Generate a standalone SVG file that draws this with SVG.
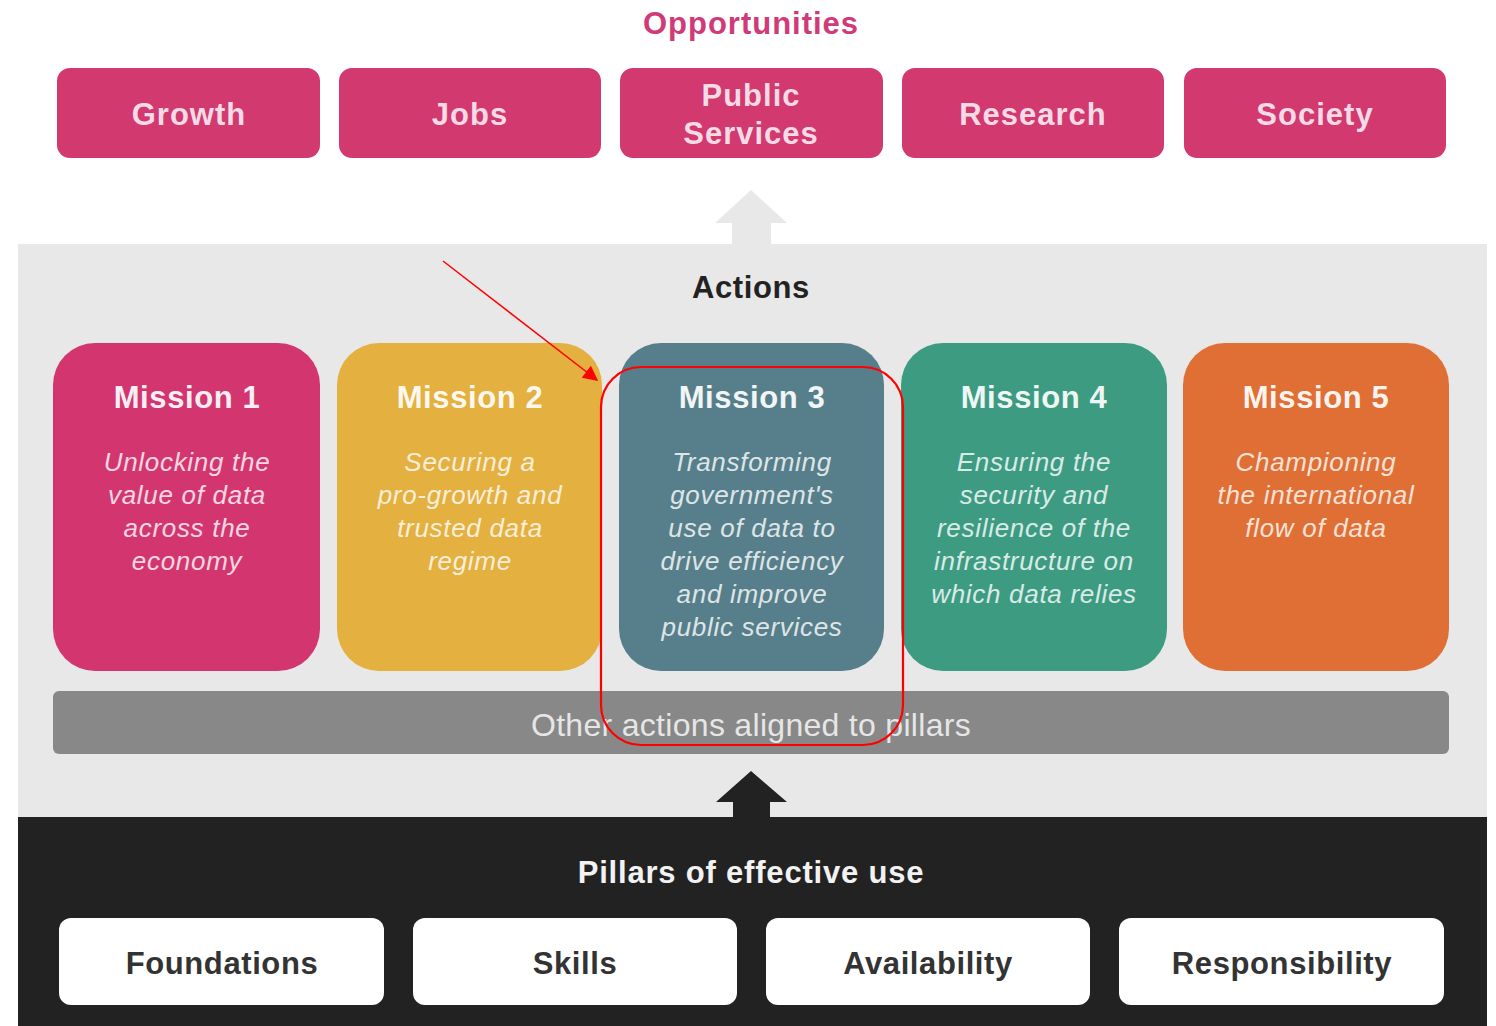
<svg xmlns="http://www.w3.org/2000/svg" width="1496" height="1026" viewBox="0 0 1496 1026">
<style>
.h{font-family:"Liberation Sans",Arial,sans-serif;font-weight:bold;text-anchor:middle}
.opp{fill:#f6dbe6;font-size:31px;letter-spacing:1px}
.mt{fill:#ffffff;font-size:31px;letter-spacing:0.6px;opacity:0.92}
.md{font-family:"Liberation Sans",Arial,sans-serif;font-style:italic;font-size:26px;fill:#ffffff;opacity:0.8;text-anchor:middle;letter-spacing:0.7px}
.pil{fill:#333333;font-size:31px;letter-spacing:0.6px}
.top{fill:#d1396f}
.pbox{fill:#ffffff}
</style>
<defs>
<marker id="redHead" viewBox="0 0 10 10" refX="9" refY="5" markerWidth="17" markerHeight="15" markerUnits="userSpaceOnUse" orient="auto">
<path d="M0,0 L10,5 L0,10 z" fill="#ff0000"/>
</marker>
</defs>
<rect x="0" y="0" width="1496" height="1026" fill="#ffffff"/>
<rect id="actions-panel" x="18" y="244" width="1469" height="574" fill="#e8e8e8"/>
<rect id="pillars-panel" x="18" y="817" width="1469" height="209" fill="#222222"/>

<text class="h" x="751" y="34" fill="#d03a78" font-size="31" letter-spacing="1">Opportunities</text>

<g id="growth"><rect class="top" x="57" y="68" width="263" height="90" rx="13"/><text class="h opp" x="189" y="125">Growth</text></g>
<g id="jobs"><rect class="top" x="339" y="68" width="262" height="90" rx="13"/><text class="h opp" x="470" y="125">Jobs</text></g>
<g id="public-services"><rect class="top" x="620" y="68" width="263" height="90" rx="13"/><text class="h opp" x="751" y="106">Public</text><text class="h opp" x="751" y="144">Services</text></g>
<g id="research"><rect class="top" x="902" y="68" width="262" height="90" rx="13"/><text class="h opp" x="1033" y="125">Research</text></g>
<g id="society"><rect class="top" x="1184" y="68" width="262" height="90" rx="13"/><text class="h opp" x="1315" y="125">Society</text></g>

<g id="connectors">
<path d="M751,190 L787,223 L771,223 L771,244 L732,244 L732,223 L715,223 Z" fill="#e8e8e8"/>
<path d="M751,771 L787,802 L770,802 L770,818 L733,818 L733,802 L716,802 Z" fill="#222222"/>
</g>

<text class="h" x="751" y="298" fill="#222222" font-size="31" letter-spacing="0.6">Actions</text>

<g id="mission1"><rect x="53" y="343" width="267" height="328" rx="42" fill="#d3356f"/>
<text class="h mt" x="187" y="408">Mission 1</text>
<text class="md" x="187" y="471">Unlocking the</text><text class="md" x="187" y="504">value of data</text><text class="md" x="187" y="537">across the</text><text class="md" x="187" y="570">economy</text></g>
<g id="mission2"><rect x="337" y="343" width="265" height="328" rx="42" fill="#e4b03f"/>
<text class="h mt" x="470" y="408">Mission 2</text>
<text class="md" x="470" y="471">Securing a</text><text class="md" x="470" y="504">pro-growth and</text><text class="md" x="470" y="537">trusted data</text><text class="md" x="470" y="570">regime</text></g>
<g id="mission3"><rect x="619" y="343" width="265" height="328" rx="42" fill="#567f8b"/>
<text class="h mt" x="752" y="408">Mission 3</text>
<text class="md" x="752" y="471">Transforming</text><text class="md" x="752" y="504">government's</text><text class="md" x="752" y="537">use of data to</text><text class="md" x="752" y="570">drive efficiency</text><text class="md" x="752" y="603">and improve</text><text class="md" x="752" y="636">public services</text></g>
<g id="mission4"><rect x="901" y="343" width="266" height="328" rx="42" fill="#3d9b82"/>
<text class="h mt" x="1034" y="408">Mission 4</text>
<text class="md" x="1034" y="471">Ensuring the</text><text class="md" x="1034" y="504">security and</text><text class="md" x="1034" y="537">resilience of the</text><text class="md" x="1034" y="570">infrastructure on</text><text class="md" x="1034" y="603">which data relies</text></g>
<g id="mission5"><rect x="1183" y="343" width="266" height="328" rx="42" fill="#df6f34"/>
<text class="h mt" x="1316" y="408">Mission 5</text>
<text class="md" x="1316" y="471">Championing</text><text class="md" x="1316" y="504">the international</text><text class="md" x="1316" y="537">flow of data</text></g>

<g id="other-actions"><rect x="53" y="691" width="1396" height="63" rx="6" fill="#888888"/>
<text x="751" y="736" font-family="Liberation Sans,Arial,sans-serif" font-size="32" fill="#e6e6e6" text-anchor="middle" letter-spacing="0.3">Other actions aligned to pillars</text></g>

<text class="h" x="751" y="883" fill="#f2f2f2" font-size="31" letter-spacing="0.8">Pillars of effective use</text>

<g id="foundations"><rect class="pbox" x="59" y="918" width="325" height="87" rx="12"/><text class="h pil" x="222" y="974">Foundations</text></g>
<g id="skills"><rect class="pbox" x="413" y="918" width="324" height="87" rx="12"/><text class="h pil" x="575" y="974">Skills</text></g>
<g id="availability"><rect class="pbox" x="766" y="918" width="324" height="87" rx="12"/><text class="h pil" x="928" y="974">Availability</text></g>
<g id="responsibility"><rect class="pbox" x="1119" y="918" width="325" height="87" rx="12"/><text class="h pil" x="1282" y="974">Responsibility</text></g>

<g id="annotation">
<line x1="443" y1="261" x2="597" y2="380" stroke="#ff0000" stroke-width="1.5" marker-end="url(#redHead)"/>
<rect x="601" y="367" width="302" height="378" rx="40" fill="none" stroke="#ff0000" stroke-width="2.2"/>
</g>
</svg>
